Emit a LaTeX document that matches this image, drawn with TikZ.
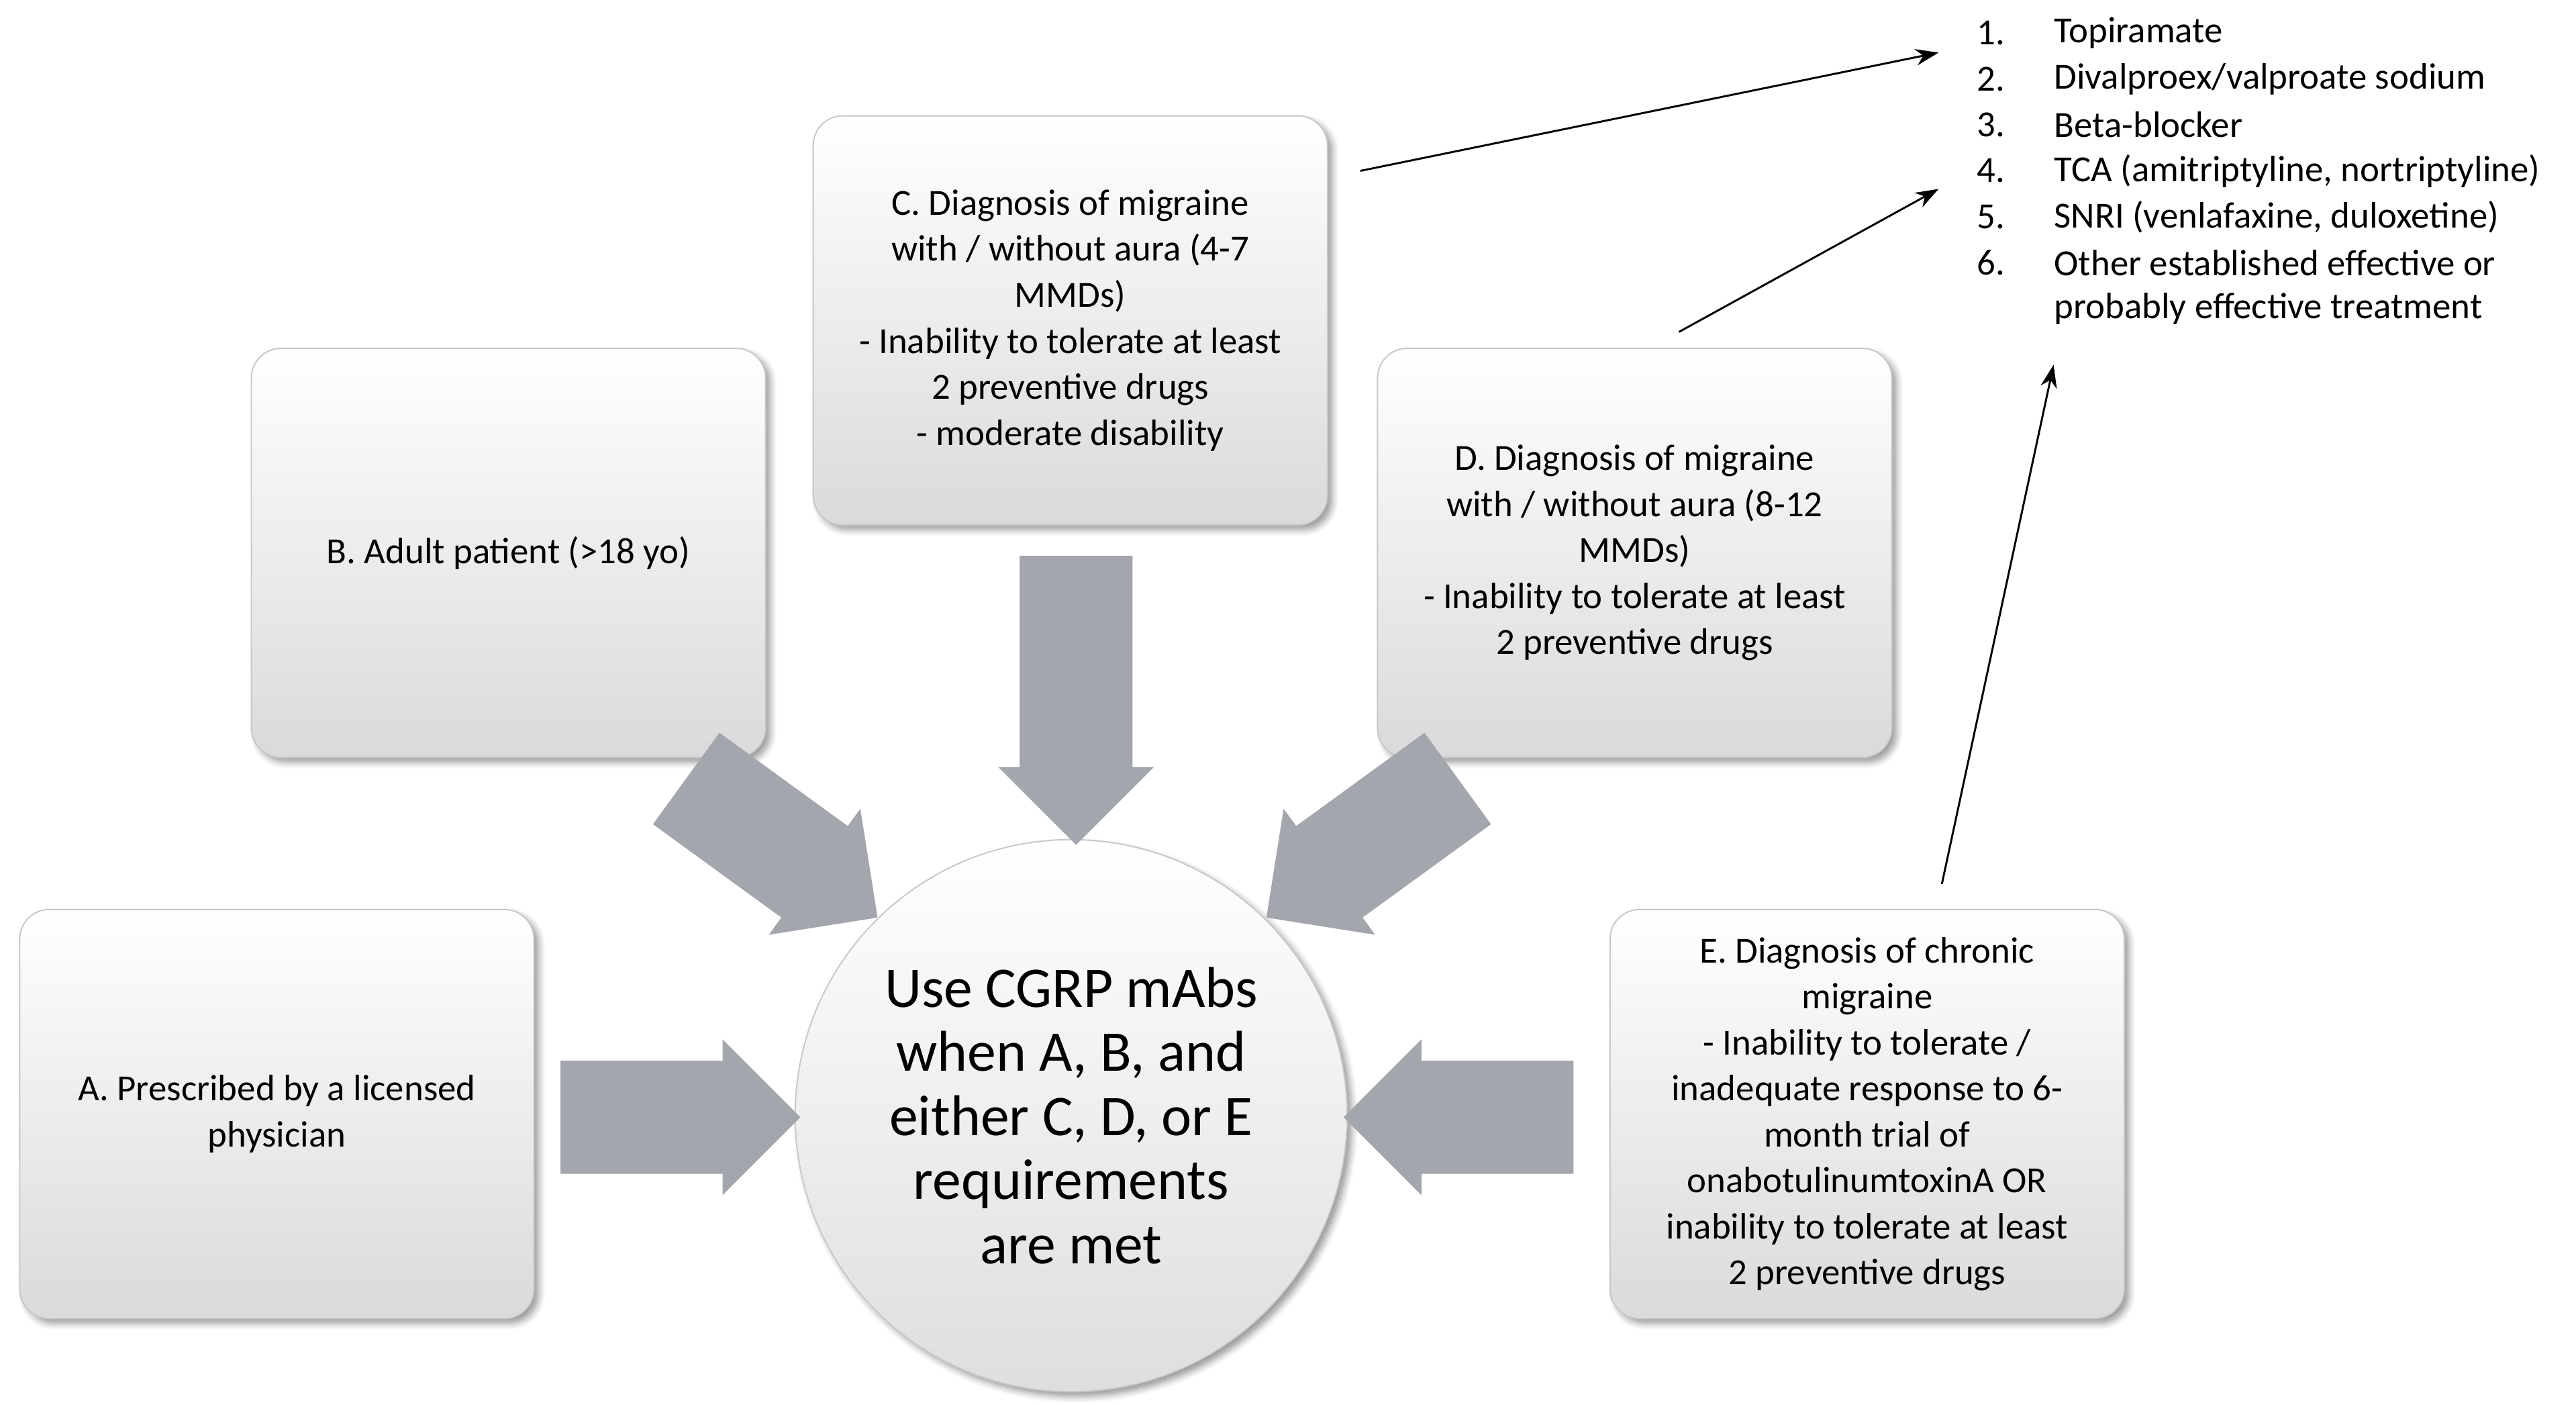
\documentclass[tikz,border=0pt]{standalone}
\usepackage{fontspec}
\setmainfont{Carlito}
\usetikzlibrary{shapes.arrows,shadows.blur,arrows.meta}
\begin{document}
\begin{tikzpicture}[x=0.5pt,y=-0.5pt,
 box/.style={draw={rgb,255:red,200;green,200;blue,200},rounded corners=9pt,top color=white,bottom color={rgb,255:red,218;green,218;blue,220},
   blur shadow={shadow xshift=1.5pt,shadow yshift=-1.5pt,shadow blur steps=6},minimum width=156.5pt,minimum height=124.5pt,align=center,font=\fontsize{11.2}{14}\selectfont},
 big/.style={single arrow,fill={rgb,255:red,163;green,166;blue,173},draw=none,inner xsep=0pt,inner ysep=17pt,single arrow head extend=6.5pt,single arrow head indent=0pt,shape border uses incircle=false},
 thin/.style={-{Stealth[length=7pt,width=5pt]},line width=0.6pt}]
\useasboundingbox (0,0) rectangle (1568,855);
\node[box] (A) at (168.5,678) {A. Prescribed by a licensed\\physician};
\node[box] (B) at (309.5,336.5) {B. Adult patient (>18 yo)};
\node[box] (C) at (651.5,195) {C. Diagnosis of migraine\\with / without aura (4-7\\MMDs)\\- Inability to tolerate at least\\2 preventive drugs\\- moderate disability};
\node[box] (D) at (995,336.5) {D. Diagnosis of migraine\\with / without aura (8-12\\MMDs)\\- Inability to tolerate at least\\2 preventive drugs};
\node[box] (E) at (1136.5,678) {E. Diagnosis of chronic\\migraine\\- Inability to tolerate /\\inadequate response to 6-\\month trial of\\onabotulinumtoxinA OR\\inability to tolerate at least\\2 preventive drugs};
\node[circle,draw={rgb,255:red,200;green,200;blue,200},top color=white,bottom color={rgb,255:red,222;green,222;blue,224},blur shadow={shadow xshift=1.5pt,shadow yshift=-1.5pt},minimum size=168pt,align=center,font=\fontsize{17.5}{19.5}\selectfont] (M) at (652,679) {Use CGRP mAbs\\when A, B, and\\either C, D, or E\\requirements\\are met};
\node[big,minimum height=73pt] (aA) at (397,680) {};
\node[big,minimum height=70pt,rotate=180] (aE) at (905,680) {};
\node[big,minimum height=88pt,rotate=-90] (aC) at (655,409) {};
\node[big,minimum height=72pt,rotate=-36] (aB) at (462,506) {};
\node[big,minimum height=72pt,rotate=216] (aD) at (843,506) {};
\begin{scope}[font=\fontsize{11.2}{14}\selectfont]
\foreach \t [count=\k] in {Topiramate,{Divalproex/valproate sodium},Beta-blocker,{TCA (amitriptyline, nortriptyline)},{SNRI (venlafaxine, duloxetine)},{Other established effective or}}{
 \node[anchor=west,inner sep=0] (n\k) at (1203,{20+28*(\k-1)}) {\k.};
 \node[anchor=west,inner sep=0] (t\k) at (1250,{20+28*(\k-1)}) {\t};}
\node[anchor=west,inner sep=0] (t7) at (1250,188) {probably effective treatment};
\end{scope}
\coordinate (p1) at (1180,32);
\coordinate (p2) at (1180,115);
\coordinate (p3) at (1250,222);
\draw[thin] (828,104) -- (p1);
\draw[thin] (1022,202) -- (p2);
\draw[thin] (1182,538) -- (p3);
\end{tikzpicture}
\end{document}
